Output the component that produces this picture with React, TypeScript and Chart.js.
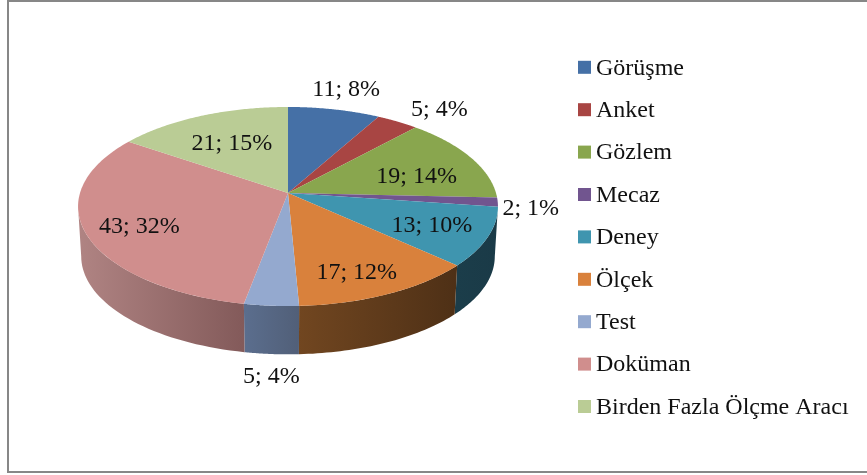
import React, { useEffect, useRef } from "react";
import { Chart, registerables } from "chart.js";

Chart.register(...registerables);

const categories = ["Görüşme", "Anket", "Gözlem", "Mecaz", "Deney", "Ölçek", "Test", "Doküman", "Birden Fazla Ölçme Aracı"];
const counts = [11, 5, 19, 2, 13, 17, 5, 43, 21];
const percents = [8, 4, 14, 1, 10, 12, 4, 32, 15];

const topColors = ["#4570a6", "#a84543", "#89a64e", "#71558f", "#3f95af", "#d9813c", "#94a9cf", "#d08e8d", "#bacc95"];
const wallStart = ["#2a4364", "#652928", "#52642f", "#443356", "#1b3d4a", "#714620", "#5b6e8e", "#b08483", "#70795a"];
const wallEnd = ["#2a4364", "#652928", "#52642f", "#443356", "#1a3a47", "#4e3016", "#515f78", "#835a5a", "#70795a"];
const labelOffsets = [[12, -20], [42, -11.5], [-54, 19], [33, 7], [-56, -11], [-32, -21], [0, 71], [54, -6], [30.5, 28]];

const FONT = '24px "Liberation Serif"';

// Perspective projection of the pie's unit circle
const cx = 288, cy = 193, R = 208, S = 97.7, P = 0.1357;
const project = (a: number, r = 1) => {
  const u = r * Math.cos(a), v = r * Math.sin(a), w = 1 - P * v;
  return { x: cx + (R * u) / w, y: cy + (S * v) / w };
};
const projectLow = (a: number) => {
  const t = project(a);
  return { x: cx + (t.x - cx) * 0.985, y: cy + (t.y - cy) * 0.985 + 50 };
};

const drawText = (ctx: CanvasRenderingContext2D, text: string, x: number, y: number, align: CanvasTextAlign) => {
  ctx.save();
  ctx.font = FONT;
  ctx.fillStyle = "#111";
  ctx.textAlign = align;
  ctx.textBaseline = "middle";
  ctx.fillText(text, x, y);
  ctx.restore();
};

const pie3d = {
  id: "pie3d",
  beforeDraw(chart: any) {
    const { ctx, width, height } = chart;
    ctx.save();
    ctx.fillStyle = "#fff";
    ctx.fillRect(0, 0, width, height);
    ctx.strokeStyle = "#878787";
    ctx.lineWidth = 2;
    ctx.strokeRect(8, 1, width + 20, 471);
    ctx.restore();
  },
  beforeDatasetsDraw(chart: any) {
    const { ctx } = chart;
    const arcs = chart.getDatasetMeta(0).data;
    const loV = Math.asin(P), hiV = Math.PI - loV;
    ctx.save();
    // side walls
    arcs.forEach((arc: any, i: number) => {
      const norm = (x: number) => {
        let n = x;
        while (n < -Math.PI / 2) n += Math.PI * 2;
        while (n > Math.PI * 1.5) n -= Math.PI * 2;
        return n;
      };
      const a = Math.max(norm(arc.startAngle), loV);
      const b = Math.min(arc.startAngle < arc.endAngle ? norm(arc.startAngle) + (arc.endAngle - arc.startAngle) : norm(arc.endAngle), hiV);
      if (b <= a) return;
      const n = 40;
      const pts: number[] = [];
      for (let k = 0; k <= n; k++) pts.push(a + ((b - a) * k) / n);
      const x0 = project(a).x, x1 = project(b).x;
      const g = ctx.createLinearGradient(Math.max(x0, x1), 0, Math.min(x0, x1), 0);
      g.addColorStop(0, x1 < x0 ? wallEnd[i] : wallStart[i]);
      g.addColorStop(1, x1 < x0 ? wallStart[i] : wallEnd[i]);
      ctx.beginPath();
      pts.forEach((t, k) => {
        const p = project(t);
        if (k === 0) ctx.moveTo(p.x, p.y);
        else ctx.lineTo(p.x, p.y);
      });
      pts.slice().reverse().forEach((t) => {
        const p = projectLow(t);
        ctx.lineTo(p.x, p.y);
      });
      ctx.closePath();
      ctx.fillStyle = g;
      ctx.fill();
    });
    // top faces
    arcs.forEach((arc: any, i: number) => {
      const n = 90;
      ctx.beginPath();
      ctx.moveTo(cx, cy);
      for (let k = 0; k <= n; k++) {
        const p = project(arc.startAngle + ((arc.endAngle - arc.startAngle) * k) / n);
        ctx.lineTo(p.x, p.y);
      }
      ctx.closePath();
      ctx.fillStyle = chart.data.datasets[0].backgroundColor[i];
      ctx.fill();
    });
    // data labels
    arcs.forEach((arc: any, i: number) => {
      const m = project((arc.startAngle + arc.endAngle) / 2);
      drawText(ctx, `${counts[i]}; ${percents[i]}%`, m.x + labelOffsets[i][0], m.y + labelOffsets[i][1], "center");
    });
    // legend
    chart.data.labels.forEach((label: string, i: number) => {
      const y = 67.3 + i * 42.4;
      ctx.fillStyle = chart.data.datasets[0].backgroundColor[i];
      ctx.fillRect(578, y - 6.5, 13, 13);
      drawText(ctx, label, 596, y + 1, "left");
    });
    ctx.restore();
    return false;
  },
};

export default function App() {
  const ref = useRef<HTMLCanvasElement>(null);
  useEffect(() => {
    const chart = new Chart(ref.current as HTMLCanvasElement, {
      type: "pie",
      data: {
        labels: categories,
        datasets: [{ data: counts, backgroundColor: topColors, borderWidth: 0 }],
      },
      options: {
        animation: false,
        responsive: false,
        plugins: { legend: { display: false }, tooltip: { enabled: false } },
      },
      plugins: [pie3d],
    } as any);
    return () => chart.destroy();
  }, []);
  return (
    <div style={{ position: "absolute", left: 0, top: 0, width: 867, height: 475, overflow: "hidden" }}>
      <canvas ref={ref} width={867} height={475} style={{ display: "block", filter: "blur(0.45px)" }} />
    </div>
  );
}
